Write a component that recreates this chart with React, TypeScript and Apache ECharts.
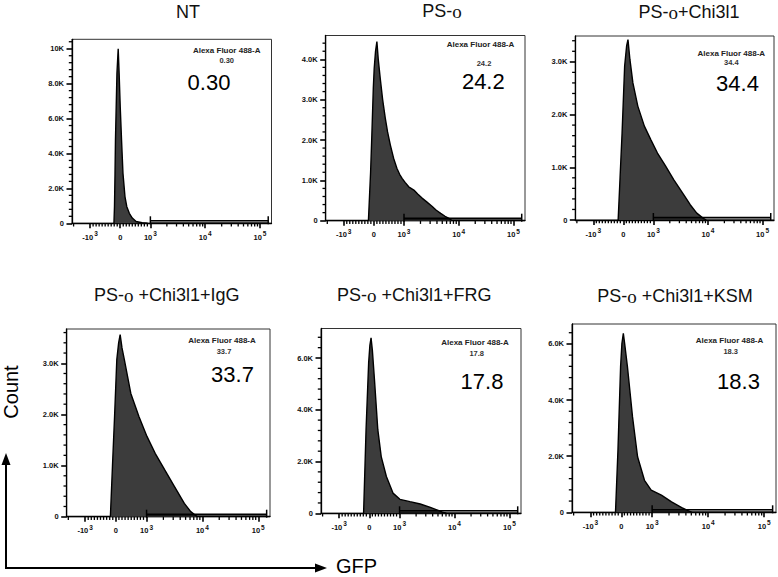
import React, { useEffect, useRef } from "react";
import * as echarts from "echarts";

// ---- Data (x = position on the biexponential GFP axis, in decades; y = count) ----
const panelTitles = ["NT", "PS-o", "PS-o+Chi3l1", "PS-o +Chi3l1+IgG", "PS-o +Chi3l1+FRG", "PS-o +Chi3l1+KSM"];
const gatePercents = ["0.30", "24.2", "34.4", "33.7", "17.8", "18.3"];

const ntX = [-0.115, -0.105, -0.095, -0.087, -0.06, -0.037, -0.02, 0.0, 0.024, 0.05, 0.087, 0.12, 0.166, 0.22, 0.29, 0.4, 0.5];
const ntY = [0, 950, 2860, 4770, 8600, 10000, 8600, 6680, 4770, 2860, 1520, 950, 570, 300, 100, 30, 0];

const psoX = [-0.1, -0.06, -0.037, -0.01, 0.006, 0.03, 0.055, 0.08, 0.116, 0.16, 0.208, 0.25, 0.3, 0.36, 0.42, 0.47, 0.515, 0.57, 0.636, 0.73, 0.8, 0.88, 0.97, 1.066, 1.14, 1.22, 1.3, 1.37, 1.43];
const psoY = [0, 1200, 2130, 3300, 3780, 4200, 4440, 4000, 3530, 3000, 2540, 2200, 1880, 1550, 1300, 1150, 1050, 950, 840, 760, 660, 560, 460, 350, 260, 180, 110, 60, 0];

const chiX = [-0.095, -0.06, -0.023, 0.024, 0.06, 0.085, 0.12, 0.175, 0.265, 0.385, 0.505, 0.625, 0.775, 0.925, 1.105, 1.225, 1.345, 1.465, 1.52];
const chiY = [0, 800, 1650, 2920, 3300, 3420, 3050, 2600, 2160, 1780, 1520, 1270, 1020, 760, 480, 290, 130, 30, 0];

const iggX = [-0.098, -0.06, -0.023, 0.017, 0.05, 0.077, 0.11, 0.152, 0.268, 0.413, 0.557, 0.704, 0.878, 1.05, 1.226, 1.34, 1.46];
const iggY = [0, 1000, 1960, 3070, 3400, 3560, 3300, 3070, 2410, 1960, 1570, 1240, 910, 590, 260, 100, 0];

const frgX = [-0.105, -0.06, -0.013, 0.01, 0.031, 0.055, 0.093, 0.154, 0.216, 0.31, 0.43, 0.556, 0.74, 0.926, 1.11, 1.265, 1.33, 1.4];
const frgY = [0, 3230, 5810, 6500, 6780, 6300, 5170, 3230, 2190, 1420, 780, 540, 450, 360, 230, 100, 40, 0];

const ksmX = [-0.104, -0.06, -0.013, 0.01, 0.036, 0.06, 0.109, 0.2, 0.29, 0.413, 0.533, 0.715, 0.896, 1.078, 1.2, 1.26];
const ksmY = [0, 2210, 5190, 6000, 6380, 6000, 5190, 3400, 1980, 1140, 790, 610, 370, 170, 50, 0];

const histX = [ntX, psoX, chiX, iggX, frgX, ksmX];
const histY = [ntY, psoY, chiY, iggY, frgY, ksmY];

// y axis extents / tick steps per panel
const yMaxes = [10540, 4590, 3490, 3670, 7140, 6710];
const yMajorSteps = [2000, 1000, 1000, 1000, 2000, 2000];

// x tick labels (biexponential axis)
const xTickPos = [-0.55, 0, 0.55, 1.55, 2.55];
const xTickBase = ["-10", "0", "10", "10", "10"];
const xTickExp = ["3", "", "3", "4", "5"];
const gateStart = 0.55;
const gateEnd = 2.7;
const X_MIN = -0.88;
const X_MAX = 2.76;

// ---- Layout ----
const layout = [
  { l: 72, t: 39.3, w: 199.5, h: 184, tx: 188, ty: 11.5, lab: [226.7, 50], small: [226.7, 60], big: [209, 82.3] },
  { l: 325.7, t: 35.5, w: 199.3, h: 185.2, tx: 442, ty: 11, lab: [480.5, 44], small: [484, 63.5], big: [483.3, 81.7] },
  { l: 575.3, t: 36, w: 198.7, h: 184, tx: 689, ty: 12, lab: [731.3, 53.3], small: [731.3, 62], big: [737.5, 83.3] },
  { l: 66.7, t: 329, w: 203.3, h: 187.7, tx: 166.7, ty: 295, lab: [222, 340], small: [224, 351.7], big: [232.5, 374] },
  { l: 321, t: 328.5, w: 200, h: 184.8, tx: 414.2, ty: 295, lab: [475, 342.7], small: [476.7, 353.3], big: [482, 381.7] },
  { l: 572, t: 324, w: 204, h: 188.3, tx: 675, ty: 296, lab: [729.5, 340], small: [730.7, 351.7], big: [738.5, 381.7] },
];

const FONT = "'Liberation Sans', Arial, sans-serif";

function xMinorTicks(): number[] {
  const out: number[] = [];
  for (let v = -900; v <= 900; v += 100) {
    if (v !== 0) out.push((v / 1000) * 0.55);
  }
  for (let k = 2; k <= 9; k++) {
    out.push(0.55 + Math.log10(k));
    out.push(1.55 + Math.log10(k));
    const n = -0.55 - Math.log10(k);
    if (n > X_MIN) out.push(n);
  }
  return out;
}

function yFmt(v: number): string {
  if (v === 0) return "0";
  if (v >= 10000) return Math.round(v / 1000) + "K";
  return (v / 1000).toFixed(1) + "K";
}

function titleRich(t: string): string {
  if (t.startsWith("PS-o")) {
    return "{s|PS-}{o|o}{s|" + t.slice(4) + "}";
  }
  return "{s|" + t + "}";
}

export default function App() {
  const ref = useRef<HTMLDivElement>(null);
  useEffect(() => {
    if (!ref.current) return;
    const chart = echarts.init(ref.current, undefined, { renderer: "svg" });
    const grids: any[] = [];
    const xAxes: any[] = [];
    const yAxes: any[] = [];
    const series: any[] = [];
    const graphics: any[] = [];
    const minorX = xMinorTicks();

    layout.forEach((L, i) => {
      grids.push({
        left: L.l, top: L.t, width: L.w, height: L.h,
        show: true, borderColor: "#333", borderWidth: 1, backgroundColor: "#fff",
      });
      xAxes.push({
        type: "value", gridIndex: i, min: X_MIN, max: X_MAX, position: "bottom", splitLine: { show: false },
        axisLine: { show: true, onZero: false, lineStyle: { color: "#000", width: 1.3 } },
        axisTick: { show: true, customValues: xTickPos, length: 5, lineStyle: { color: "#000", width: 1.6 } },
        axisLabel: {
          show: true, customValues: xTickPos, margin: 7,
          formatter: (v: number) => {
            const k = xTickPos.findIndex((p) => Math.abs(p - v) < 1e-6);
            if (k < 0) return "";
            return xTickExp[k] ? "{b|" + xTickBase[k] + "}{e|" + xTickExp[k] + "}" : "{b|" + xTickBase[k] + "}";
          },
          rich: {
            b: { fontSize: 7.5, fontWeight: "bold", color: "#111", fontFamily: FONT, verticalAlign: "bottom", lineHeight: 11 },
            e: { fontSize: 6.5, fontWeight: "bold", color: "#111", fontFamily: FONT, verticalAlign: "top", lineHeight: 11, padding: [0, 0, 0, 1] },
          },
        },
      });
      const ymax = yMaxes[i];
      const step = yMajorSteps[i];
      const majors: number[] = [];
      for (let v = 0; v <= ymax; v += step) majors.push(v);
      const minors: number[] = [];
      for (let v = step / 5; v < ymax; v += step / 5) {
        if (Math.abs(v / step - Math.round(v / step)) > 1e-6) minors.push(v);
      }
      yAxes.push({
        type: "value", gridIndex: i, min: 0, max: ymax, position: "left", splitLine: { show: false },
        axisLine: { show: true, onZero: false, lineStyle: { color: "#000", width: 1.3 } },
        axisTick: { show: true, customValues: majors, length: 5.5, lineStyle: { color: "#000", width: 1.6 } },
        axisLabel: {
          show: true, customValues: majors, margin: 8,
          fontSize: 7.5, fontWeight: "bold", color: "#111", fontFamily: FONT,
          formatter: yFmt,
        },
      });

      series.push({
        type: "line",
        xAxisIndex: i, yAxisIndex: i,
        data: histX[i].map((x, j) => [x, histY[i][j]]),
        showSymbol: false, symbol: "none", smooth: false,
        lineStyle: { color: "#000", width: 1.4 },
        areaStyle: { color: "#3c3c3c", opacity: 1 },
        z: 3,
      });
      // gate bar + minor ticks on both axes, drawn through the axes' scales
      series.push({
        type: "custom",
        xAxisIndex: i, yAxisIndex: i,
        data: [[gateStart, gateEnd]],
        clip: false,
        silent: true,
        z: 4,
        renderItem: (params: any, api: any) => {
          const a = api.coord([api.value(0), 0]);
          const b = api.coord([api.value(1), 0]);
          const st = { stroke: "#000", lineWidth: 1.5 };
          const children: any[] = [
            { type: "line", shape: { x1: a[0], y1: a[1] - 2.5, x2: b[0], y2: b[1] - 2.5 }, style: st },
            { type: "line", shape: { x1: a[0], y1: a[1] - 1, x2: b[0], y2: b[1] - 1 }, style: { stroke: "#000", lineWidth: 0.8 } },
            { type: "line", shape: { x1: a[0], y1: a[1] - 7, x2: a[0], y2: a[1] + 1 }, style: st },
            { type: "line", shape: { x1: b[0], y1: b[1] - 7, x2: b[0], y2: b[1] + 1 }, style: st },
          ];
          minorX.forEach((v) => {
            const p = api.coord([v, 0]);
            children.push({ type: "line", shape: { x1: p[0], y1: p[1], x2: p[0], y2: p[1] + 3.2 }, style: { stroke: "#000", lineWidth: 1.3 } });
          });
          minors.forEach((v) => {
            const p = api.coord([X_MIN, v]);
            children.push({ type: "line", shape: { x1: p[0] - 3.2, y1: p[1], x2: p[0], y2: p[1] }, style: { stroke: "#000", lineWidth: 1.3 } });
          });
          return { type: "group", children };
        },
      });

      graphics.push({
        type: "text", x: L.tx, y: L.ty,
        style: {
          text: titleRich(panelTitles[i]), textAlign: "center", textVerticalAlign: "middle",
          rich: {
            s: { fontSize: 18, fontFamily: FONT, fill: "#111" },
            o: { fontSize: 19, fontFamily: "'Liberation Serif', 'DejaVu Serif', serif", fill: "#111" },
          },
        },
      });
      graphics.push({
        type: "text", x: L.lab[0], y: L.lab[1],
        style: { text: "Alexa Fluor 488-A", textAlign: "center", textVerticalAlign: "middle", fontSize: 8, fontWeight: "bold", fontFamily: FONT, fill: "#222" },
      });
      graphics.push({
        type: "text", x: L.small[0], y: L.small[1],
        style: { text: gatePercents[i], textAlign: "center", textVerticalAlign: "middle", fontSize: 7.5, fontWeight: "bold", fontFamily: FONT, fill: "#333" },
      });
      graphics.push({
        type: "text", x: L.big[0], y: L.big[1],
        style: { text: gatePercents[i], textAlign: "center", textVerticalAlign: "middle", fontSize: 22, fontFamily: FONT, fill: "#000" },
      });
    });

    // axis annotations: Count / GFP with arrows
    graphics.push({
      type: "text", x: 11, y: 392, rotation: Math.PI / 2,
      style: { text: "Count", textAlign: "center", textVerticalAlign: "middle", fontSize: 20, fontFamily: FONT, fill: "#000" },
    });
    graphics.push({
      type: "text", x: 336, y: 566,
      style: { text: "GFP", textAlign: "left", textVerticalAlign: "middle", fontSize: 20, fontFamily: FONT, fill: "#000" },
    });
    graphics.push({
      type: "polyline",
      shape: { points: [[6, 463], [6, 568], [318, 568]] },
      style: { stroke: "#000", lineWidth: 2, fill: null },
    });
    graphics.push({ type: "polygon", shape: { points: [[6, 453], [1.5, 465], [10.5, 465]] }, style: { fill: "#000" } });
    graphics.push({ type: "polygon", shape: { points: [[327, 568], [315, 563.5], [315, 572.5]] }, style: { fill: "#000" } });

    chart.setOption({
      animation: false,
      backgroundColor: "#fff",
      grid: grids,
      xAxis: xAxes,
      yAxis: yAxes,
      series,
      graphic: graphics,
    });
    return () => chart.dispose();
  }, []);
  return <div ref={ref} style={{ position: "absolute", left: 0, top: 0, width: 778, height: 577 }} />;
}
